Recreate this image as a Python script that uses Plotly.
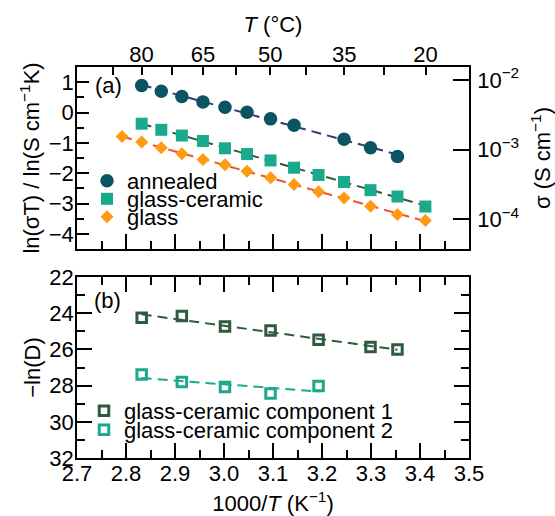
import numpy as np
import plotly.graph_objects as go

# ---------------- data ----------------
ann_x = [2.832, 2.872, 2.914, 2.957, 3.002, 3.047, 3.095, 3.143, 3.245, 3.299, 3.354]
ann_y = [0.89, 0.70, 0.53, 0.35, 0.17, 0.01, -0.21, -0.42, -0.88, -1.16, -1.45]

gc_x = [2.832, 2.872, 2.914, 2.957, 3.002, 3.047, 3.095, 3.143, 3.193, 3.245, 3.299, 3.354, 3.411]
gc_y = [-0.37, -0.57, -0.76, -0.94, -1.18, -1.37, -1.58, -1.82, -2.06, -2.29, -2.56, -2.77, -3.10]

gl_x = [2.792, 2.832, 2.872, 2.914, 2.957, 3.002, 3.047, 3.095, 3.143, 3.193, 3.245, 3.299, 3.354, 3.411]
gl_y = [-0.79, -0.97, -1.16, -1.36, -1.55, -1.72, -1.94, -2.15, -2.37, -2.61, -2.82, -3.09, -3.36, -3.56]

c1_x = [2.832, 2.914, 3.002, 3.095, 3.193, 3.299, 3.354]
c1_y = [24.25, 24.16, 24.73, 24.95, 25.46, 25.87, 26.01]

c2_x = [2.832, 2.914, 3.002, 3.095, 3.193]
c2_y = [27.38, 27.80, 28.08, 28.44, 28.02]

temp_ticks_C = [87.5, 80, 72.5, 65, 57.5, 50, 42.5, 35, 27.5, 20, 12.5]
temp_labels = ["", "80", "", "65", "", "50", "", "35", "", "20", ""]

sigma_ticks = [1e-4, 1e-3, 1e-2]
sigma_labels = ["10<sup>−4</sup>", "10<sup>−3</sup>", "10<sup>−2</sup>"]

FONT = "Liberation Sans, Arial, sans-serif"
FS = 22

def fit(x, y):
    p = np.polyfit(x, y, 1)
    xx = np.array([min(x), max(x)])
    return xx, np.polyval(p, xx)

fig = go.Figure()

# ---- top panel ----
for xs, ys, col, lcol, sym, size, name, lg in [
    (ann_x, ann_y, "#0b5462", "#2b3f6c", "circle", 13.5, "annealed", "legend"),
    (gc_x, gc_y, "#1ba98c", "#2f5a3e", "square", 12, "glass-ceramic", "legend2"),
    (gl_x, gl_y, "#ff9a12", "#f2552c", "diamond", 10, "glass", "legend3"),
]:
    fx, fy = fit(xs, ys)
    fig.add_trace(go.Scatter(x=fx, y=fy, mode="lines", xaxis="x", yaxis="y",
                             line=dict(color=lcol, width=2, dash="10px,6px"),
                             showlegend=False, hoverinfo="skip"))
    fig.add_trace(go.Scatter(x=xs, y=ys, mode="markers", xaxis="x", yaxis="y",
                             marker=dict(symbol=sym, size=size, color=col,
                                         line=dict(width=0)),
                             name=name, legend=lg))

# ---- bottom panel ----
for xs, ys, col, name, lg in [
    (c1_x, c1_y, "#2e5b3d", "glass-ceramic component 1", "legend4"),
    (c2_x, c2_y, "#1aa98c", "glass-ceramic component 2", "legend5"),
]:
    fx, fy = fit(xs, ys)
    fig.add_trace(go.Scatter(x=fx, y=fy, mode="lines", xaxis="x2", yaxis="y2",
                             line=dict(color=col, width=2, dash="10px,6px"),
                             showlegend=False, hoverinfo="skip"))
    fig.add_trace(go.Scatter(x=xs, y=ys, mode="markers", xaxis="x2", yaxis="y2",
                             marker=dict(symbol="square-open", size=9.5, color=col,
                                         line=dict(width=3, color=col)),
                             name=name, legend=lg))

# invisible trace to activate top temperature axis and right sigma axis
fig.add_trace(go.Scatter(x=[3.0], y=[1e-3], xaxis="x3", yaxis="y3", mode="markers",
                         marker=dict(opacity=0), showlegend=False, hoverinfo="skip"))

W, H = 555, 516
L, R, T, B = 77, 86, 67, 58
ph = H - T - B
top_dom = [(458 - 249) / ph, 1.0]
bot_dom = [0.0, (458 - 277) / ph]

def px2py(py):
    return (458 - py) / ph

def px2px(px):
    return (px - 77) / (W - L - R)

axis_common = dict(showline=True, linecolor="black", linewidth=1.5,
                   ticks="inside", tickcolor="black", tickwidth=1.5,
                   showgrid=False, zeroline=False, automargin=False,
                   tickfont=dict(family=FONT, size=FS, color="black"))

fig.update_layout(
    width=W, height=H,
    margin=dict(l=L, r=R, t=T, b=B, autoexpand=False),
    plot_bgcolor="white", paper_bgcolor="white",
    font=dict(family=FONT, size=FS, color="black"),
    xaxis=dict(domain=[0, 1], anchor="y", range=[2.7, 3.5], dtick=0.1, tick0=2.7,
               showticklabels=False, ticklen=15, mirror=True,
               minor=dict(ticks="inside", dtick=0.05, ticklen=8, tickcolor="black", tickwidth=1.5),
               **axis_common),
    yaxis=dict(domain=top_dom, anchor="x", range=[-4.5, 1.5], dtick=1, tick0=0,
               ticklen=12, mirror=True, ticklabelstandoff=-3,
               minor=dict(ticks="inside", dtick=0.5, ticklen=7, tickcolor="black", tickwidth=1.5),
               title=dict(text="ln(σT) / ln(S cm<sup>−1</sup>K)", font=dict(size=FS), standoff=3),
               **axis_common),
    xaxis2=dict(domain=[0, 1], anchor="y2", range=[2.7, 3.5], dtick=0.1, tick0=2.7,
                tickformat=".1f", ticklen=15, mirror="allticks", ticklabelstandoff=-5,
                minor=dict(ticks="inside", dtick=0.05, ticklen=8, tickcolor="black", tickwidth=1.5),
                title=dict(text="1000/<i>T</i> (K<sup>−1</sup>)", font=dict(size=FS), standoff=12),
                **axis_common),
    yaxis2=dict(domain=bot_dom, anchor="x2", range=[32, 22], dtick=2, tick0=22,
                ticklen=15, mirror="allticks", ticklabelstandoff=-3,
                minor=dict(ticks="inside", dtick=1, ticklen=8, tickcolor="black", tickwidth=1.5),
                title=dict(text="−ln(D)", font=dict(size=FS), standoff=3),
                **axis_common),
    xaxis3=dict(overlaying="x", side="top", anchor="y", range=[2.7, 3.5],
                tickmode="array",
                tickvals=[1000.0 / (t + 273.15) for t in temp_ticks_C],
                ticktext=temp_labels, ticklen=8, ticklabelstandoff=-6,
                title=dict(text="<i>T</i> (°C)", font=dict(size=FS), standoff=4),
                **axis_common),
    yaxis3=dict(overlaying="y", side="right", anchor="x", type="log",
                range=[-4.425, -1.814], tickmode="array",
                tickvals=sigma_ticks, ticktext=sigma_labels, ticklen=16,
                ticklabelstandoff=2,
                title=dict(text="σ (S cm<sup>−1</sup>)", font=dict(size=FS), standoff=17),
                **axis_common),
    annotations=[
        dict(text="(a)", x=px2px(108), y=px2py(86), xref="paper", yref="paper",
             xanchor="center", yanchor="middle", showarrow=False, font=dict(size=FS)),
        dict(text="(b)", x=px2px(107), y=px2py(300), xref="paper", yref="paper",
             xanchor="center", yanchor="middle", showarrow=False, font=dict(size=FS)),
    ],
)

def leg(px, py):
    return dict(x=px2px(px), y=px2py(py), xanchor="left", yanchor="middle",
                bgcolor="rgba(0,0,0,0)", font=dict(family=FONT, size=FS),
                itemclick=False, itemdoubleclick=False)

fig.update_layout(
    legend=leg(87, 181),
    legend2=leg(87, 199),
    legend3=leg(87, 217),
    legend4=leg(84, 411),
    legend5=leg(84, 430),
)

fig.write_html("out.html")
